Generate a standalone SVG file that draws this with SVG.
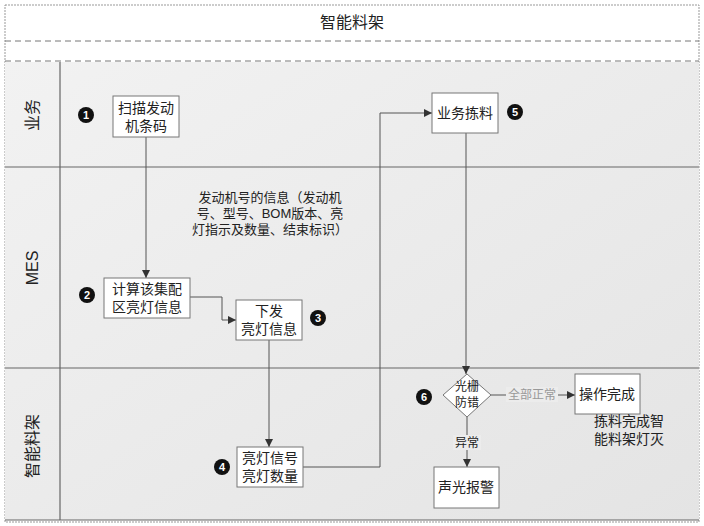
<svg xmlns="http://www.w3.org/2000/svg" width="704" height="526" viewBox="0 0 704 526">
<style>
text{font-family:"Liberation Sans","Noto Sans CJK SC",sans-serif;fill:#222}
.box{fill:#fff;stroke:#777;stroke-width:1}
.t{font-size:14px;text-anchor:middle}
.sep{stroke:#666;stroke-width:1.2;fill:none}
.dash{stroke:#777;stroke-width:1;stroke-dasharray:6 4;fill:none}
.edge{stroke:#555;stroke-width:1;fill:none}
.badge circle{fill:#111}
.badge text{fill:#fff;font-size:11px;font-weight:bold;text-anchor:middle}
.lbl{font-size:12px;text-anchor:middle}
.lh{font-size:16px;text-anchor:middle}
</style>
<defs>
<marker id="arr" viewBox="0 0 10 10" refX="10" refY="5" markerWidth="8" markerHeight="8" orient="auto" markerUnits="userSpaceOnUse">
<path d="M0,0 L10,5 L0,10 z" fill="#333"/>
</marker>
<linearGradient id="g" x1="0" y1="0" x2="1" y2="1">
<stop offset="0" stop-color="#f2f2f2"/>
<stop offset="1" stop-color="#e4e4e4"/>
</linearGradient>
</defs>
<rect x="0" y="0" width="704" height="526" fill="#fff"/>
<rect x="5" y="5" width="694" height="517" fill="#fff" stroke="#999" stroke-dasharray="2 1"/>
<text x="352" y="28" style="font-size:16px;text-anchor:middle">智能料架</text>
<line class="dash" x1="5" y1="41" x2="699" y2="41"/>
<line class="dash" x1="5" y1="61" x2="699" y2="61"/>
<g id="lanes">
<rect x="5" y="62" width="694" height="458" fill="url(#g)"/>
<line class="sep" x1="5" y1="167" x2="699" y2="167"/>
<line class="sep" x1="5" y1="368" x2="699" y2="368"/>
<line class="sep" x1="5" y1="520" x2="699" y2="520"/>
<line class="sep" x1="60" y1="62" x2="60" y2="520"/>
<text class="lh" transform="translate(38,115) rotate(-90)">业务</text>
<text class="lh" transform="translate(38,268) rotate(-90)">MES</text>
<text class="lh" transform="translate(38,446) rotate(-90)">智能料架</text>
</g>
<g id="connectors">
<path class="edge" d="M146,137 V278" marker-end="url(#arr)"/>
<path class="edge" d="M190,297 H222 V320 H236" marker-end="url(#arr)"/>
<path class="edge" d="M269,340 V447" marker-end="url(#arr)"/>
<path class="edge" d="M303,467 H380 V113 H432" marker-end="url(#arr)"/>
<path class="edge" d="M466,133 V374" marker-end="url(#arr)"/>
<path class="edge" d="M491,395 H575" marker-end="url(#arr)"/>
<path class="edge" d="M467,417 V467" marker-end="url(#arr)"/>
<rect x="506" y="387" width="52" height="15" fill="#ececec"/>
<text class="lbl" x="532" y="399" style="fill:#999">全部正常</text>
<rect x="453" y="435" width="28" height="15" fill="#ececec"/>
<text class="lbl" x="467" y="447">异常</text>
</g>
<g id="n1"><rect class="box" x="113" y="96" width="66" height="41"/><text class="t" x="146" y="113">扫描发动</text><text class="t" x="146" y="131">机条码</text></g>
<g id="n2"><rect class="box" x="104" y="278" width="86" height="40"/><text class="t" x="147" y="294">计算该集配</text><text class="t" x="147" y="312">区亮灯信息</text></g>
<g id="n3"><rect class="box" x="236" y="300" width="66" height="40"/><text class="t" x="269" y="316">下发</text><text class="t" x="269" y="334">亮灯信息</text></g>
<g id="n4"><rect class="box" x="237" y="447" width="66" height="40"/><text class="t" x="270" y="463">亮灯信号</text><text class="t" x="270" y="481">亮灯数量</text></g>
<g id="n5"><rect class="box" x="432" y="93" width="66" height="40"/><text class="t" x="465" y="118">业务拣料</text></g>
<g id="n6"><polygon class="box" points="467,374 491,395 467,417 443,395"/><text class="t" x="467" y="391" style="font-size:12px">光栅</text><text class="t" x="467" y="407" style="font-size:12px">防错</text></g>
<g id="n7"><rect class="box" x="575" y="374" width="65" height="40"/><text class="t" x="607" y="399">操作完成</text></g>
<g id="n8"><rect class="box" x="434" y="467" width="65" height="41"/><text class="t" x="466" y="492">声光报警</text></g>
<g id="note1"><text class="t" x="270" y="202" style="font-size:13px">发动机号的信息（发动机</text><text class="t" x="270" y="218" style="font-size:13px">号、型号、BOM版本、亮</text><text class="t" x="270" y="234" style="font-size:13px">灯指示及数量、结束标识）</text></g>
<g id="note2"><text class="t" x="629" y="426">拣料完成智</text><text class="t" x="629" y="444">能料架灯灭</text></g>
<g class="badge" id="b1"><circle cx="86" cy="115" r="8"/><text x="86" y="119">1</text></g>
<g class="badge" id="b2"><circle cx="87" cy="295" r="8"/><text x="87" y="299">2</text></g>
<g class="badge" id="b3"><circle cx="318" cy="318" r="8"/><text x="318" y="322">3</text></g>
<g class="badge" id="b4"><circle cx="222" cy="467" r="8"/><text x="222" y="471">4</text></g>
<g class="badge" id="b5"><circle cx="515" cy="112" r="8"/><text x="515" y="116">5</text></g>
<g class="badge" id="b6"><circle cx="424" cy="397" r="8"/><text x="424" y="401">6</text></g>
</svg>
